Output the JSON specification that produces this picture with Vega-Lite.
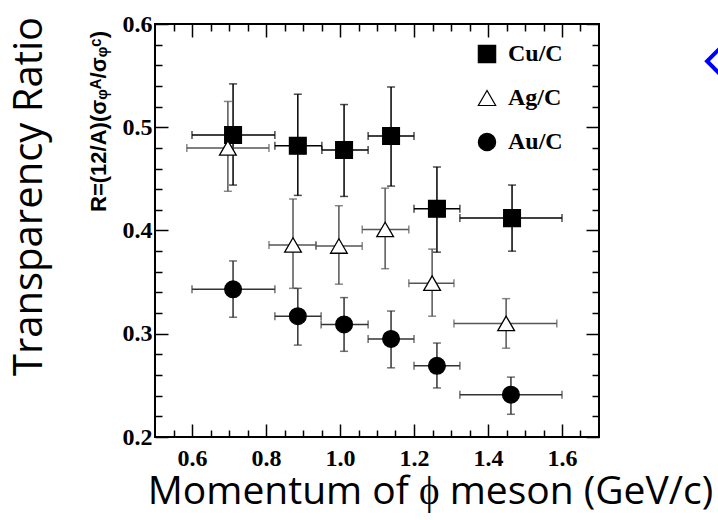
{
  "$schema": "https://vega.github.io/schema/vega-lite/v6.json",
  "width": 444,
  "height": 413,
  "autosize": {"type": "none"},
  "padding": {"left": 155, "top": 24, "right": 119, "bottom": 83},
  "background": "white",
  "title": {"text": "Transparency Ratio", "orient": "left", "anchor": "middle", "frame": "group", "font": "Open Sans", "fontSize": 40, "fontWeight": "normal", "color": "black", "offset": 37, "dx": 34},
  "config": {
    "view": {"stroke": "black", "strokeWidth": 2},
    "axis": {"grid": false, "domain": false, "tickColor": "black", "tickWidth": 1.5, "labelColor": "black", "titleColor": "black"}
  },
  "data": {"values": [
    {"series": "Cu/C", "x": 0.711, "y": 0.4925, "xlo": 0.600, "xhi": 0.824, "ylo": 0.444, "yhi": 0.542},
    {"series": "Cu/C", "x": 0.886, "y": 0.482, "xlo": 0.824, "xhi": 0.951, "ylo": 0.434, "yhi": 0.532},
    {"series": "Cu/C", "x": 1.011, "y": 0.478, "xlo": 0.951, "xhi": 1.076, "ylo": 0.433, "yhi": 0.522},
    {"series": "Cu/C", "x": 1.138, "y": 0.4915, "xlo": 1.076, "xhi": 1.200, "ylo": 0.443, "yhi": 0.539},
    {"series": "Cu/C", "x": 1.262, "y": 0.421, "xlo": 1.200, "xhi": 1.324, "ylo": 0.379, "yhi": 0.4615},
    {"series": "Cu/C", "x": 1.465, "y": 0.412, "xlo": 1.324, "xhi": 1.600, "ylo": 0.380, "yhi": 0.444},
    {"series": "Ag/C", "x": 0.697, "y": 0.480, "xlo": 0.586, "xhi": 0.808, "ylo": 0.438, "yhi": 0.525},
    {"series": "Ag/C", "x": 0.873, "y": 0.386, "xlo": 0.808, "xhi": 0.935, "ylo": 0.344, "yhi": 0.4305},
    {"series": "Ag/C", "x": 0.997, "y": 0.385, "xlo": 0.935, "xhi": 1.060, "ylo": 0.348, "yhi": 0.424},
    {"series": "Ag/C", "x": 1.122, "y": 0.401, "xlo": 1.060, "xhi": 1.186, "ylo": 0.363, "yhi": 0.441},
    {"series": "Ag/C", "x": 1.249, "y": 0.349, "xlo": 1.186, "xhi": 1.308, "ylo": 0.317, "yhi": 0.382},
    {"series": "Ag/C", "x": 1.449, "y": 0.310, "xlo": 1.308, "xhi": 1.586, "ylo": 0.286, "yhi": 0.334},
    {"series": "Au/C", "x": 0.711, "y": 0.343, "xlo": 0.600, "xhi": 0.824, "ylo": 0.316, "yhi": 0.3705},
    {"series": "Au/C", "x": 0.886, "y": 0.317, "xlo": 0.824, "xhi": 0.949, "ylo": 0.289, "yhi": 0.344},
    {"series": "Au/C", "x": 1.011, "y": 0.309, "xlo": 0.949, "xhi": 1.076, "ylo": 0.283, "yhi": 0.335},
    {"series": "Au/C", "x": 1.138, "y": 0.295, "xlo": 1.076, "xhi": 1.200, "ylo": 0.267, "yhi": 0.322},
    {"series": "Au/C", "x": 1.262, "y": 0.269, "xlo": 1.200, "xhi": 1.324, "ylo": 0.2475, "yhi": 0.291},
    {"series": "Au/C", "x": 1.462, "y": 0.241, "xlo": 1.324, "xhi": 1.600, "ylo": 0.222, "yhi": 0.258}
  ]},
  "layer": [
    {
      "mark": {"type": "rule", "strokeWidth": 1.5},
      "encoding": {
        "x": {"field": "x", "type": "quantitative", "scale": {"domain": [0.5, 1.7], "nice": false, "zero": false},
          "axis": {"orient": "bottom", "values": [0.6, 0.8, 1.0, 1.2, 1.4, 1.6], "format": ".1f", "tickSize": -13, "labelFont": "Liberation Serif", "labelFontWeight": "bold", "labelFontSize": 24, "labelPadding": 22, "labelFlush": false, "labelOverlap": false,
            "title": "Momentum of ϕ meson (GeV/c)", "titleFont": "Open Sans", "titleFontSize": 39, "titleFontWeight": "normal", "titleX": 275, "titleY": 66, "titleBaseline": "alphabetic", "titleAlign": "center"}},
        "y": {"field": "ylo", "type": "quantitative", "scale": {"domain": [0.2, 0.6], "nice": false, "zero": false},
          "axis": {"orient": "left", "values": [0.2, 0.3, 0.4, 0.5, 0.6], "format": ".1f", "tickSize": -13, "labelFont": "Liberation Serif", "labelFontWeight": "bold", "labelFontSize": 24, "labelPadding": 16, "labelFlush": false, "labelOverlap": false,
            "title": "R=(12/A)(σᵩᴬ/σᵩᶜ)", "titleFont": "Liberation Sans", "titleFontWeight": "bold", "titleFontSize": 22, "titleX": -57, "titleY": 97, "titleAlign": "center", "titleBaseline": "middle", "titleAngle": -90}},
        "y2": {"field": "yhi"},
        "color": {"field": "series", "type": "nominal", "scale": {"domain": ["Ag/C", "Au/C", "Cu/C"], "range": ["#555555", "#333333", "#000000"]}, "legend": null}
      }
    },
    {
      "mark": {"type": "rule", "strokeWidth": 1.5},
      "encoding": {
        "x": {"field": "xlo", "type": "quantitative", "scale": {"domain": [0.5, 1.7], "nice": false, "zero": false},
          "axis": {"orient": "bottom", "values": [0.55, 0.65, 0.7, 0.75, 0.85, 0.9, 0.95, 1.05, 1.1, 1.15, 1.25, 1.3, 1.35, 1.45, 1.5, 1.55, 1.65], "tickSize": -7, "labels": false, "title": null}},
        "x2": {"field": "xhi"},
        "y": {"field": "y", "type": "quantitative", "scale": {"domain": [0.2, 0.6], "nice": false, "zero": false},
          "axis": {"orient": "left", "values": [0.22, 0.24, 0.26, 0.28, 0.32, 0.34, 0.36, 0.38, 0.42, 0.44, 0.46, 0.48, 0.52, 0.54, 0.56, 0.58], "tickSize": -7, "labels": false, "title": null}},
        "color": {"field": "series", "type": "nominal", "legend": null}
      }
    },
    {
      "mark": {"type": "tick", "orient": "horizontal", "size": 8, "thickness": 1.5},
      "encoding": {
        "x": {"field": "x", "type": "quantitative", "scale": {"domain": [0.5, 1.7], "nice": false, "zero": false},
          "axis": {"orient": "top", "values": [0.6, 0.8, 1.0, 1.2, 1.4, 1.6], "tickSize": -13, "labels": false, "title": null}},
        "y": {"field": "ylo", "type": "quantitative", "scale": {"domain": [0.2, 0.6], "nice": false, "zero": false},
          "axis": {"orient": "right", "values": [0.2, 0.3, 0.4, 0.5, 0.6], "tickSize": -13, "labels": false, "title": null}},
        "color": {"field": "series", "type": "nominal", "legend": null}
      }
    },
    {
      "mark": {"type": "tick", "orient": "horizontal", "size": 8, "thickness": 1.5},
      "encoding": {
        "x": {"field": "x", "type": "quantitative", "scale": {"domain": [0.5, 1.7], "nice": false, "zero": false},
          "axis": {"orient": "top", "values": [0.55, 0.65, 0.7, 0.75, 0.85, 0.9, 0.95, 1.05, 1.1, 1.15, 1.25, 1.3, 1.35, 1.45, 1.5, 1.55, 1.65], "tickSize": -7, "labels": false, "title": null}},
        "y": {"field": "yhi", "type": "quantitative", "scale": {"domain": [0.2, 0.6], "nice": false, "zero": false},
          "axis": {"orient": "right", "values": [0.22, 0.24, 0.26, 0.28, 0.32, 0.34, 0.36, 0.38, 0.42, 0.44, 0.46, 0.48, 0.52, 0.54, 0.56, 0.58], "tickSize": -7, "labels": false, "title": null}},
        "color": {"field": "series", "type": "nominal", "legend": null}
      }
    },
    {
      "mark": {"type": "tick", "orient": "vertical", "size": 8, "thickness": 1.5},
      "encoding": {
        "x": {"field": "xlo", "type": "quantitative", "scale": {"domain": [0.5, 1.7], "nice": false, "zero": false}, "axis": null},
        "y": {"field": "y", "type": "quantitative", "scale": {"domain": [0.2, 0.6], "nice": false, "zero": false}, "axis": null},
        "color": {"field": "series", "type": "nominal", "legend": null}
      }
    },
    {
      "mark": {"type": "tick", "orient": "vertical", "size": 8, "thickness": 1.5},
      "encoding": {
        "x": {"field": "xhi", "type": "quantitative", "scale": {"domain": [0.5, 1.7], "nice": false, "zero": false}, "axis": null},
        "y": {"field": "y", "type": "quantitative", "scale": {"domain": [0.2, 0.6], "nice": false, "zero": false}, "axis": null},
        "color": {"field": "series", "type": "nominal", "legend": null}
      }
    },
    {
      "mark": {"type": "point", "filled": true, "strokeWidth": 1.3, "size": 280, "opacity": 1},
      "encoding": {
        "x": {"field": "x", "type": "quantitative", "scale": {"domain": [0.5, 1.7], "nice": false, "zero": false}, "axis": null},
        "y": {"field": "y", "type": "quantitative", "scale": {"domain": [0.2, 0.6], "nice": false, "zero": false}, "axis": null},
        "shape": {"field": "series", "type": "nominal", "scale": {"domain": ["Cu/C", "Ag/C", "Au/C"], "range": ["square", "triangle-up", "circle"]},
          "legend": {"title": null, "orient": "none", "legendX": 320, "legendY": 18, "padding": 0, "symbolSize": 300, "symbolStrokeWidth": 1.2, "labelFont": "Liberation Serif", "labelFontWeight": "bold", "labelFontSize": 24, "labelColor": "black", "rowPadding": 20, "labelOffset": 9}},
        "fill": {"field": "series", "type": "nominal", "scale": {"domain": ["Cu/C", "Ag/C", "Au/C"], "range": ["black", "white", "black"]},
          "legend": {"title": null, "orient": "none", "legendX": 320, "legendY": 18, "padding": 0, "symbolSize": 300, "symbolStrokeWidth": 1.2, "labelFont": "Liberation Serif", "labelFontWeight": "bold", "labelFontSize": 24, "labelColor": "black", "rowPadding": 20, "labelOffset": 9}},
        "stroke": {"field": "series", "type": "nominal", "scale": {"domain": ["Cu/C", "Ag/C", "Au/C"], "range": ["black", "black", "black"]},
          "legend": {"title": null, "orient": "none", "legendX": 320, "legendY": 18, "padding": 0, "symbolSize": 300, "symbolStrokeWidth": 1.2, "labelFont": "Liberation Serif", "labelFontWeight": "bold", "labelFontSize": 24, "labelColor": "black", "rowPadding": 20, "labelOffset": 9}}
      }
    },
    {
      "data": {"values": [{"x": 2.03, "y": 0.564}]},
      "mark": {"type": "point", "shape": "diamond", "size": 784, "filled": false, "stroke": "#0000ff", "strokeWidth": 4, "opacity": 1},
      "encoding": {
        "x": {"field": "x", "type": "quantitative", "scale": {"domain": [0.5, 1.7], "nice": false, "zero": false}, "axis": null},
        "y": {"field": "y", "type": "quantitative", "scale": {"domain": [0.2, 0.6], "nice": false, "zero": false}, "axis": null}
      }
    }
  ],
  "resolve": {"axis": {"x": "independent", "y": "independent"}}
}
